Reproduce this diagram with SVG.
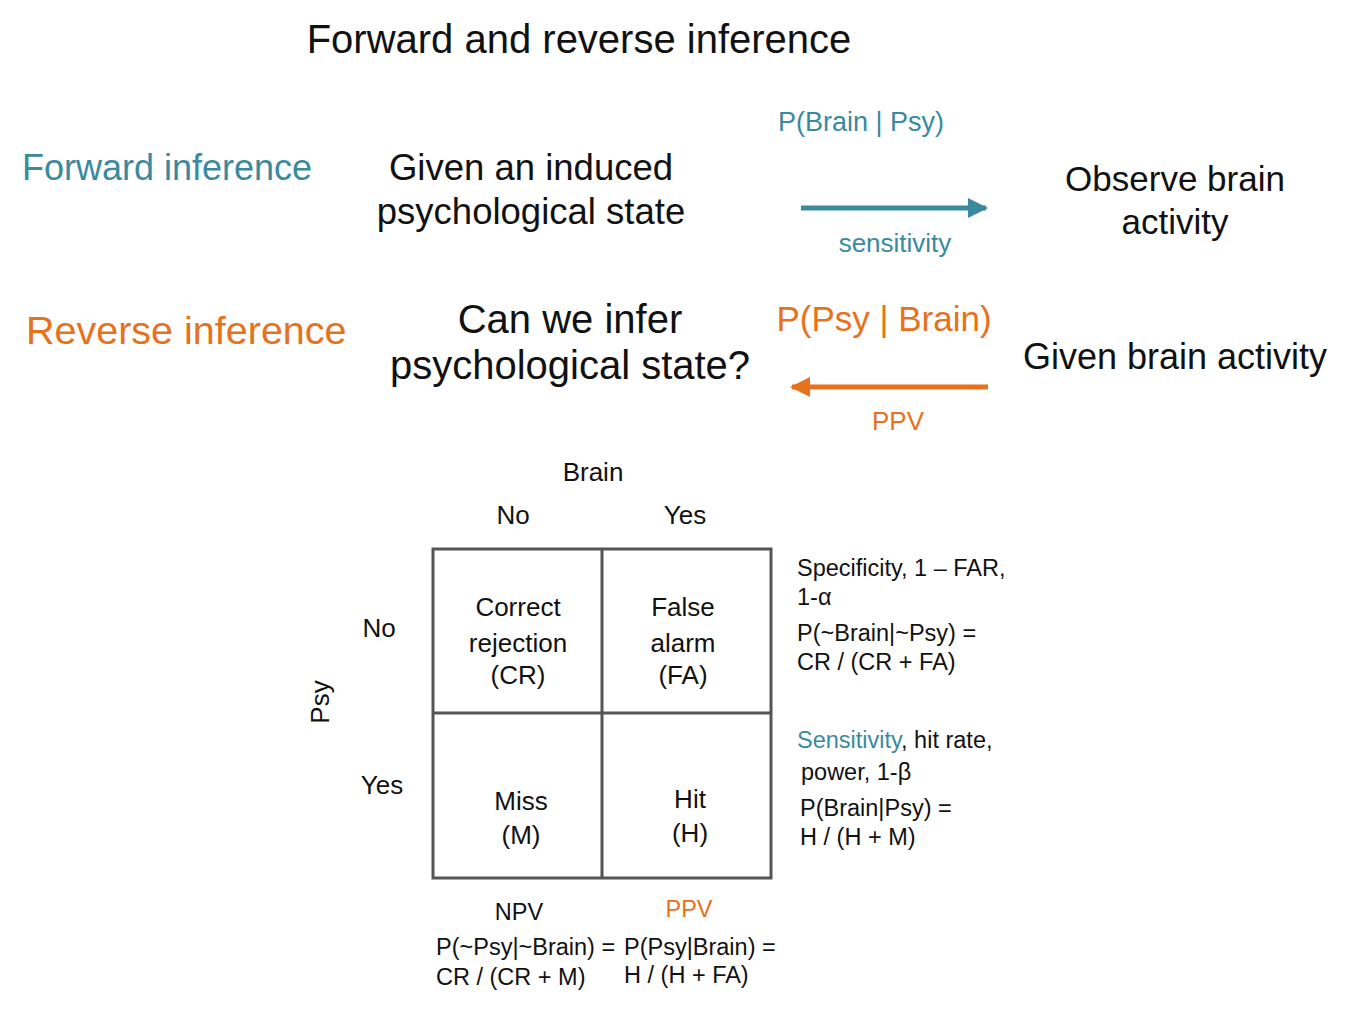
<svg xmlns="http://www.w3.org/2000/svg" width="1350" height="1013" viewBox="0 0 1350 1013">
<style>
text{font-family:"Liberation Sans",Arial,sans-serif;fill:#111}
.t{fill:#3a8a9e}.o{fill:#e8711c}
.m{text-anchor:middle}
.s{font-size:23.5px}.c{font-size:26px}.b{font-size:36px}.h{font-size:40px}
</style>
<defs>
<marker id="at" viewBox="0 0 10 10" refX="9" refY="5" markerWidth="4" markerHeight="4" orient="auto"><path d="M0,0L10,5L0,10z" fill="#3a8a9e"/></marker>
<marker id="ao" viewBox="0 0 10 10" refX="9" refY="5" markerWidth="4" markerHeight="4" orient="auto"><path d="M0,0L10,5L0,10z" fill="#e8711c"/></marker>
</defs>
<rect width="1350" height="1013" fill="#fff"/>
<text class="m" x="579" y="53" font-size="40">Forward and reverse inference</text>
<g id="forward">
<text class="t" x="22" y="180" font-size="36">Forward inference</text>
<text class="m" x="531" y="180" font-size="36.5">Given an induced</text>
<text class="m" x="531" y="224" font-size="36.5">psychological state</text>
<text class="m" x="1175" y="191" font-size="35">Observe brain</text>
<text class="m" x="1175" y="234" font-size="35">activity</text>
</g>
<g id="reverse">
<text class="o" x="26" y="344" font-size="39.5">Reverse inference</text>
<text class="m h" x="570" y="333">Can we infer</text>
<text class="m h" x="570" y="379">psychological state?</text>
<text class="m b" x="1175" y="369">Given brain activity</text>
</g>
<g id="connectors">
<line x1="801" y1="208" x2="986" y2="208" stroke="#3a8a9e" stroke-width="5" marker-end="url(#at)"/>
<line x1="988" y1="387" x2="792" y2="387" stroke="#e8711c" stroke-width="5" marker-end="url(#ao)"/>
<text class="m t" x="861" y="131" font-size="27">P(Brain | Psy)</text>
<text class="m t c" x="895" y="252">sensitivity</text>
<text class="m o" x="884" y="331" font-size="35">P(Psy | Brain)</text>
<text class="m o c" x="898" y="430">PPV</text>
</g>
<g id="table">
<rect x="433" y="549" width="338" height="329" fill="none" stroke="#555" stroke-width="3"/>
<line x1="602" y1="549" x2="602" y2="878" stroke="#555" stroke-width="3"/>
<line x1="433" y1="713" x2="771" y2="713" stroke="#555" stroke-width="3"/>
<text class="m c" x="593" y="481">Brain</text>
<text class="m c" x="513" y="524">No</text>
<text class="m c" x="685" y="524">Yes</text>
<text class="m c" x="379" y="637">No</text>
<text class="m c" x="382" y="794">Yes</text>
<text class="m c" transform="translate(329,702) rotate(-90)">Psy</text>
<text class="m c" x="518" y="616">Correct</text>
<text class="m c" x="518" y="652">rejection</text>
<text class="m c" x="518" y="684">(CR)</text>
<text class="m c" x="683" y="616">False</text>
<text class="m c" x="683" y="652">alarm</text>
<text class="m c" x="683" y="684">(FA)</text>
<text class="m c" x="521" y="810">Miss</text>
<text class="m c" x="521" y="844">(M)</text>
<text class="m c" x="690" y="808">Hit</text>
<text class="m c" x="690" y="842">(H)</text>
</g>
<g id="side">
<text class="s" x="797" y="576" font-size="24">Specificity, 1 – FAR,</text>
<text class="s" x="797" y="605">1-α</text>
<text class="s" x="797" y="641">P(~Brain|~Psy) =</text>
<text class="s" x="797" y="670">CR / (CR + FA)</text>
<text class="s" x="797" y="748"><tspan class="t">Sensitivity</tspan>, hit rate,</text>
<text class="s" x="801" y="780">power, 1-β</text>
<text class="s" x="800" y="816">P(Brain|Psy) =</text>
<text class="s" x="800" y="845">H / (H + M)</text>
<text class="m s" x="519" y="920">NPV</text>
<text class="s" x="436" y="955">P(~Psy|~Brain) =</text>
<text class="s" x="436" y="985">CR / (CR + M)</text>
<text class="m s o" x="689" y="917">PPV</text>
<text class="s" x="624" y="955">P(Psy|Brain) =</text>
<text class="s" x="624" y="983">H / (H + FA)</text>
</g>
</svg>
